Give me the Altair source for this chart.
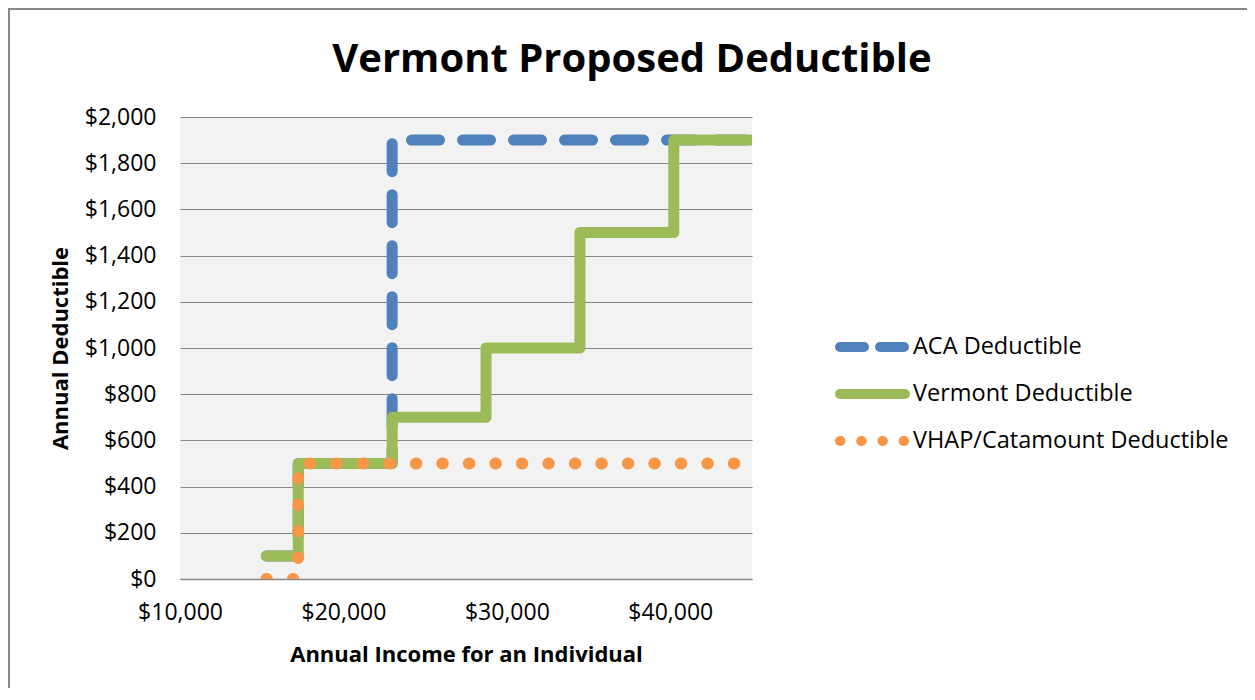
import altair as alt
import pandas as pd

title_text = "Vermont Proposed Deductible"
series_names = ["ACA Deductible", "Vermont Deductible", "VHAP/Catamount Deductible"]
series_colors = ["#4F81BD", "#9BBB59", "#F79646"]

aca_income = [15282, 17235, 22980, 45960]
aca_deduct = [100, 500, 1900, 1900]

vt_income = [15282, 17235, 22980, 28725, 34470, 40215, 45960]
vt_deduct = [100, 500, 700, 1000, 1500, 1900, 1900]

vhap_income = [15282, 17235, 45960]
vhap_deduct = [0, 500, 500]

x_ticks = [10000, 20000, 30000, 40000]
y_ticks = list(range(0, 2001, 200))

FONT = "Open Sans"
GRID = "#868686"


def frame(name, xs, ys):
    return pd.DataFrame({"income": xs, "deductible": ys, "series": [name] * len(xs)})


aca_df = frame(series_names[0], aca_income, aca_deduct)
vt_df = frame(series_names[1], vt_income, vt_deduct)
vhap_df = frame(series_names[2], vhap_income, vhap_deduct)

x = alt.X("income:Q",
          scale=alt.Scale(domain=[10000, 45000], nice=False, zero=False),
          axis=alt.Axis(values=x_ticks, format="$,.0f", title="Annual Income for an Individual",
                        grid=False, ticks=False, labelPadding=22, labelFlush=False,
                        domainColor=GRID, domainWidth=1.5,
                        labelFont=FONT, labelFontSize=23, labelColor="black",
                        titleFont=FONT, titleFontSize=22, titleFontWeight="bold", titleColor="black",
                        titlePadding=20))
y = alt.Y("deductible:Q",
          scale=alt.Scale(domain=[0, 2000], nice=False),
          axis=alt.Axis(values=y_ticks, format="$,.0f", title="Annual Deductible",
                        grid=True, gridColor=GRID, gridWidth=1, domain=False, ticks=False,
                        labelPadding=24, labelFont=FONT, labelFontSize=23, labelColor="black",
                        titleFont=FONT, titleFontSize=22, titleFontWeight="bold", titleColor="black",
                        titlePadding=12))
color = alt.Color("series:N", scale=alt.Scale(domain=series_names, range=series_colors), legend=None)
dash = alt.StrokeDash("series:N",
                      scale=alt.Scale(domain=series_names, range=[[28, 23], [1, 0], [0.5, 26]]),
                      legend=None)


def layer(df, width):
    return alt.Chart(df).mark_line(interpolate="step-after", clip=True, strokeCap="round",
                                   strokeJoin="round", strokeWidth=width).encode(
        x=x, y=y, color=color, strokeDash=dash)


deco_df = pd.DataFrame({"k": [0]})
border = alt.Chart(deco_df).mark_rect(fillOpacity=0, stroke=GRID, strokeWidth=2).encode(
    x=alt.value(-171), x2=alt.value(2000), y=alt.value(-108), y2=alt.value(2000))
title = alt.Chart(deco_df).mark_text(font=FONT, fontSize=40, fontWeight="bold", color="black",
                                     align="center", baseline="alphabetic").encode(
    x=alt.value(452), y=alt.value(-45), text=alt.value(title_text))

main = alt.layer(layer(aca_df, 11), layer(vt_df, 11), layer(vhap_df, 12), border, title)

# legend (drawn through its own scales, placed right of the plot)
legend_rows = [0, 1, 2]
legend_ends = [0, 1]
leg_lines = pd.DataFrame([
    {"series": s, "row": r, "lx": e} for s, r in zip(series_names, legend_rows) for e in legend_ends
])
leg_labels = pd.DataFrame({"series": series_names, "row": legend_rows, "lx": [1, 1, 1]})

lx = alt.X("lx:Q", scale=alt.Scale(domain=[0, 1], range=[660, 725]), axis=None)
ly = alt.Y("row:Q", scale=alt.Scale(domain=[0, 2], range=[230, 324]), axis=None)
leg_color = alt.Color("series:N", scale=alt.Scale(domain=series_names, range=series_colors), legend=None)
leg_dash = alt.StrokeDash("series:N",
                          scale=alt.Scale(domain=series_names, range=[[24, 16], [1, 0], [0.5, 20.7]]),
                          legend=None)

leg_sym = alt.Chart(leg_lines).mark_line(strokeCap="round", strokeWidth=10).encode(
    x=lx, y=ly, color=leg_color, strokeDash=leg_dash, detail="series:N")
leg_txt = alt.Chart(leg_labels).mark_text(align="left", baseline="middle", dx=8, font=FONT,
                                          fontSize=23.5, color="black").encode(
    x=lx, y=ly, text="series:N")
legend_layer = alt.layer(leg_sym, leg_txt)

chart = alt.layer(main, legend_layer).resolve_scale(
    x="independent", y="independent", strokeDash="independent"
).properties(
    width=572, height=462,
    autosize=alt.AutoSizeParams(type="none"),
    padding={"left": 172, "top": 109, "right": 495, "bottom": 109},
    background="white",
).configure_view(fill="#F2F2F2", strokeWidth=0)

chart.save("out.html", embed_options={"renderer": "svg", "actions": False})
